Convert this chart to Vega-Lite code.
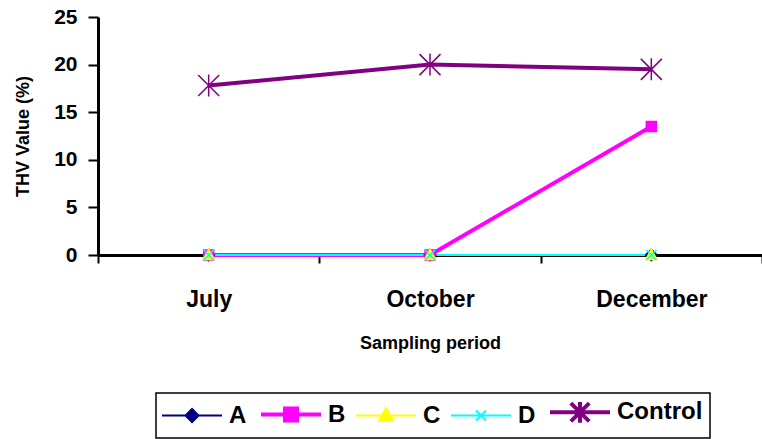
{
  "$schema": "https://vega.github.io/schema/vega-lite/v6.json",
  "width": 664,
  "height": 238,
  "autosize": {"type": "none"},
  "padding": {"left": 98, "top": 17, "right": 0, "bottom": 184},
  "background": "white",
  "data": {
    "values": [
      {"month": "July", "series": "A", "value": 0},
      {"month": "July", "series": "B", "value": 0},
      {"month": "July", "series": "C", "value": 0},
      {"month": "July", "series": "D", "value": 0},
      {"month": "July", "series": "Control", "value": 17.8},
      {"month": "October", "series": "A", "value": 0},
      {"month": "October", "series": "B", "value": 0},
      {"month": "October", "series": "C", "value": 0},
      {"month": "October", "series": "D", "value": 0},
      {"month": "October", "series": "Control", "value": 20.0},
      {"month": "December", "series": "A", "value": 0},
      {"month": "December", "series": "B", "value": 13.5},
      {"month": "December", "series": "C", "value": 0},
      {"month": "December", "series": "D", "value": 0},
      {"month": "December", "series": "Control", "value": 19.5}
    ]
  },
  "encoding": {
    "x": {
      "field": "month",
      "type": "nominal",
      "sort": ["July", "October", "December"],
      "bandPosition": 0.5,
      "scale": {"type": "band", "paddingInner": 0, "paddingOuter": 0},
      "axis": {
        "title": "Sampling period",
        "labelAngle": 0,
        "tickBand": "extent",
        "tickSize": 8,
        "labelPadding": 25,
        "labelFont": "Liberation Sans",
        "labelFontSize": 23,
        "titleFont": "Liberation Sans",
        "titleFontSize": 18,
        "titlePadding": 23
      }
    },
    "y": {
      "field": "value",
      "type": "quantitative",
      "scale": {"domain": [0, 25], "nice": false},
      "axis": {
        "title": "THV Value (%)",
        "values": [0, 5, 10, 15, 20, 25],
        "tickSize": 10,
        "labelPadding": 11,
        "labelFont": "Liberation Sans",
        "labelFontSize": 21,
        "titleFont": "Liberation Sans",
        "titleFontSize": 18,
        "titlePadding": 21
      }
    }
  },
  "layer": [
    {
      "mark": {"type": "line"},
      "encoding": {
        "color": {
          "field": "series",
          "type": "nominal",
          "scale": {"domain": ["A", "B", "C", "D", "Control"], "range": ["#000080", "#FF00FF", "#FFFF00", "#00FFFF", "#800080"]},
          "legend": null
        },
        "strokeWidth": {
          "condition": {"test": "datum.series === 'B' || datum.series === 'Control'", "value": 4},
          "value": 2
        }
      }
    },
    {
      "mark": {"type": "point", "filled": true, "opacity": 1, "size": 100, "strokeWidth": 1.5},
      "encoding": {
        "fill": {
          "field": "series",
          "type": "nominal",
          "scale": {"domain": ["A", "B", "C", "D", "Control"], "range": ["#000080", "#FF00FF", "#FFFF00", "#00FFFF", "#800080"]},
          "legend": null
        },
        "stroke": {
          "field": "series",
          "type": "nominal",
          "scale": {"domain": ["A", "B", "C", "D", "Control"], "range": ["#000080", "#FF00FF", "#FFFF00", "#00FFFF", "#800080"]},
          "legend": null
        },
        "shape": {
          "field": "series",
          "type": "nominal",
          "scale": {
            "domain": ["A", "B", "C", "D", "Control"],
            "range": [
              "M0,-1.15L1.15,0L0,1.15L-1.15,0Z",
              "M-1,-1H1V1H-1Z",
              "M0,-1.2L1.1,0.9H-1.1Z",
              "M-1,-1L1,1M-1,1L1,-1",
              "M-2.1,-2.1L2.1,2.1M-2.1,2.1L2.1,-2.1M0,-2.2V2.2"
            ]
          },
          "legend": null
        }
      }
    },
    {
      "transform": [{"filter": "false"}],
      "mark": {"type": "point", "filled": true, "opacity": 1},
      "encoding": {
        "fill": {
          "field": "series",
          "type": "nominal",
          "title": null,
          "scale": {"domain": ["A", "B", "C", "D", "Control"], "range": ["#000080", "#FF00FF", "#FFFF00", "#00FFFF", "#800080"]},
          "legend": {
            "orient": "none",
            "legendX": 58,
            "legendY": 376,
            "direction": "horizontal",
            "columns": 5,
            "encode": {
              "symbols": {
                "update": {
                  "strokeWidth": {"signal": "datum.value === 'B' || datum.value === 'Control' ? 4 : 2"}
                }
              }
            }
          }
        },
        "stroke": {
          "field": "series",
          "type": "nominal",
          "title": null,
          "scale": {"domain": ["A", "B", "C", "D", "Control"], "range": ["#000080", "#FF00FF", "#FFFF00", "#00FFFF", "#800080"]}
        },
        "shape": {
          "field": "series",
          "type": "nominal",
          "title": null,
          "scale": {
            "domain": ["A", "B", "C", "D", "Control"],
            "range": [
              "M-1,0H3.615M1.31,-0.5L1.81,0L1.31,0.5L0.81,0Z",
              "M-1,0H3.615M0.85,-0.46H1.77V0.46H0.85Z",
              "M-1,0H3.615M1.31,-0.55L1.84,0.4H0.78Z",
              "M-1,0H3.615M0.93,-0.38L1.69,0.38M0.93,0.38L1.69,-0.38",
              "M-1,0H3.615M0.6,-0.7L2.02,0.7M0.6,0.7L2.02,-0.7M1.31,-0.8V0.8"
            ]
          }
        }
      }
    }
  ],
  "resolve": {
    "scale": {"color": "independent", "fill": "independent", "stroke": "independent", "shape": "independent"}
  },
  "config": {
    "view": {"stroke": null},
    "axis": {
      "domainColor": "black",
      "domainWidth": 3,
      "tickColor": "black",
      "tickWidth": 2,
      "labelColor": "black",
      "labelFontWeight": "bold",
      "titleColor": "black",
      "titleFontWeight": "bold",
      "grid": false
    },
    "legend": {
      "orient": "none",
      "legendX": 58,
      "legendY": 376,
      "direction": "horizontal",
      "columns": 5,
      "strokeColor": "black",
      "strokeWidth": 1.5,
      "padding": 7,
      "symbolSize": 676,
      "symbolOpacity": 1,
      "symbolStrokeWidth": 2,
      "labelOffset": 42,
      "columnPadding": 6,
      "labelFont": "Liberation Sans",
      "labelFontSize": 24,
      "labelFontWeight": "bold",
      "labelColor": "black",
      "labelLimit": 300
    }
  }
}
